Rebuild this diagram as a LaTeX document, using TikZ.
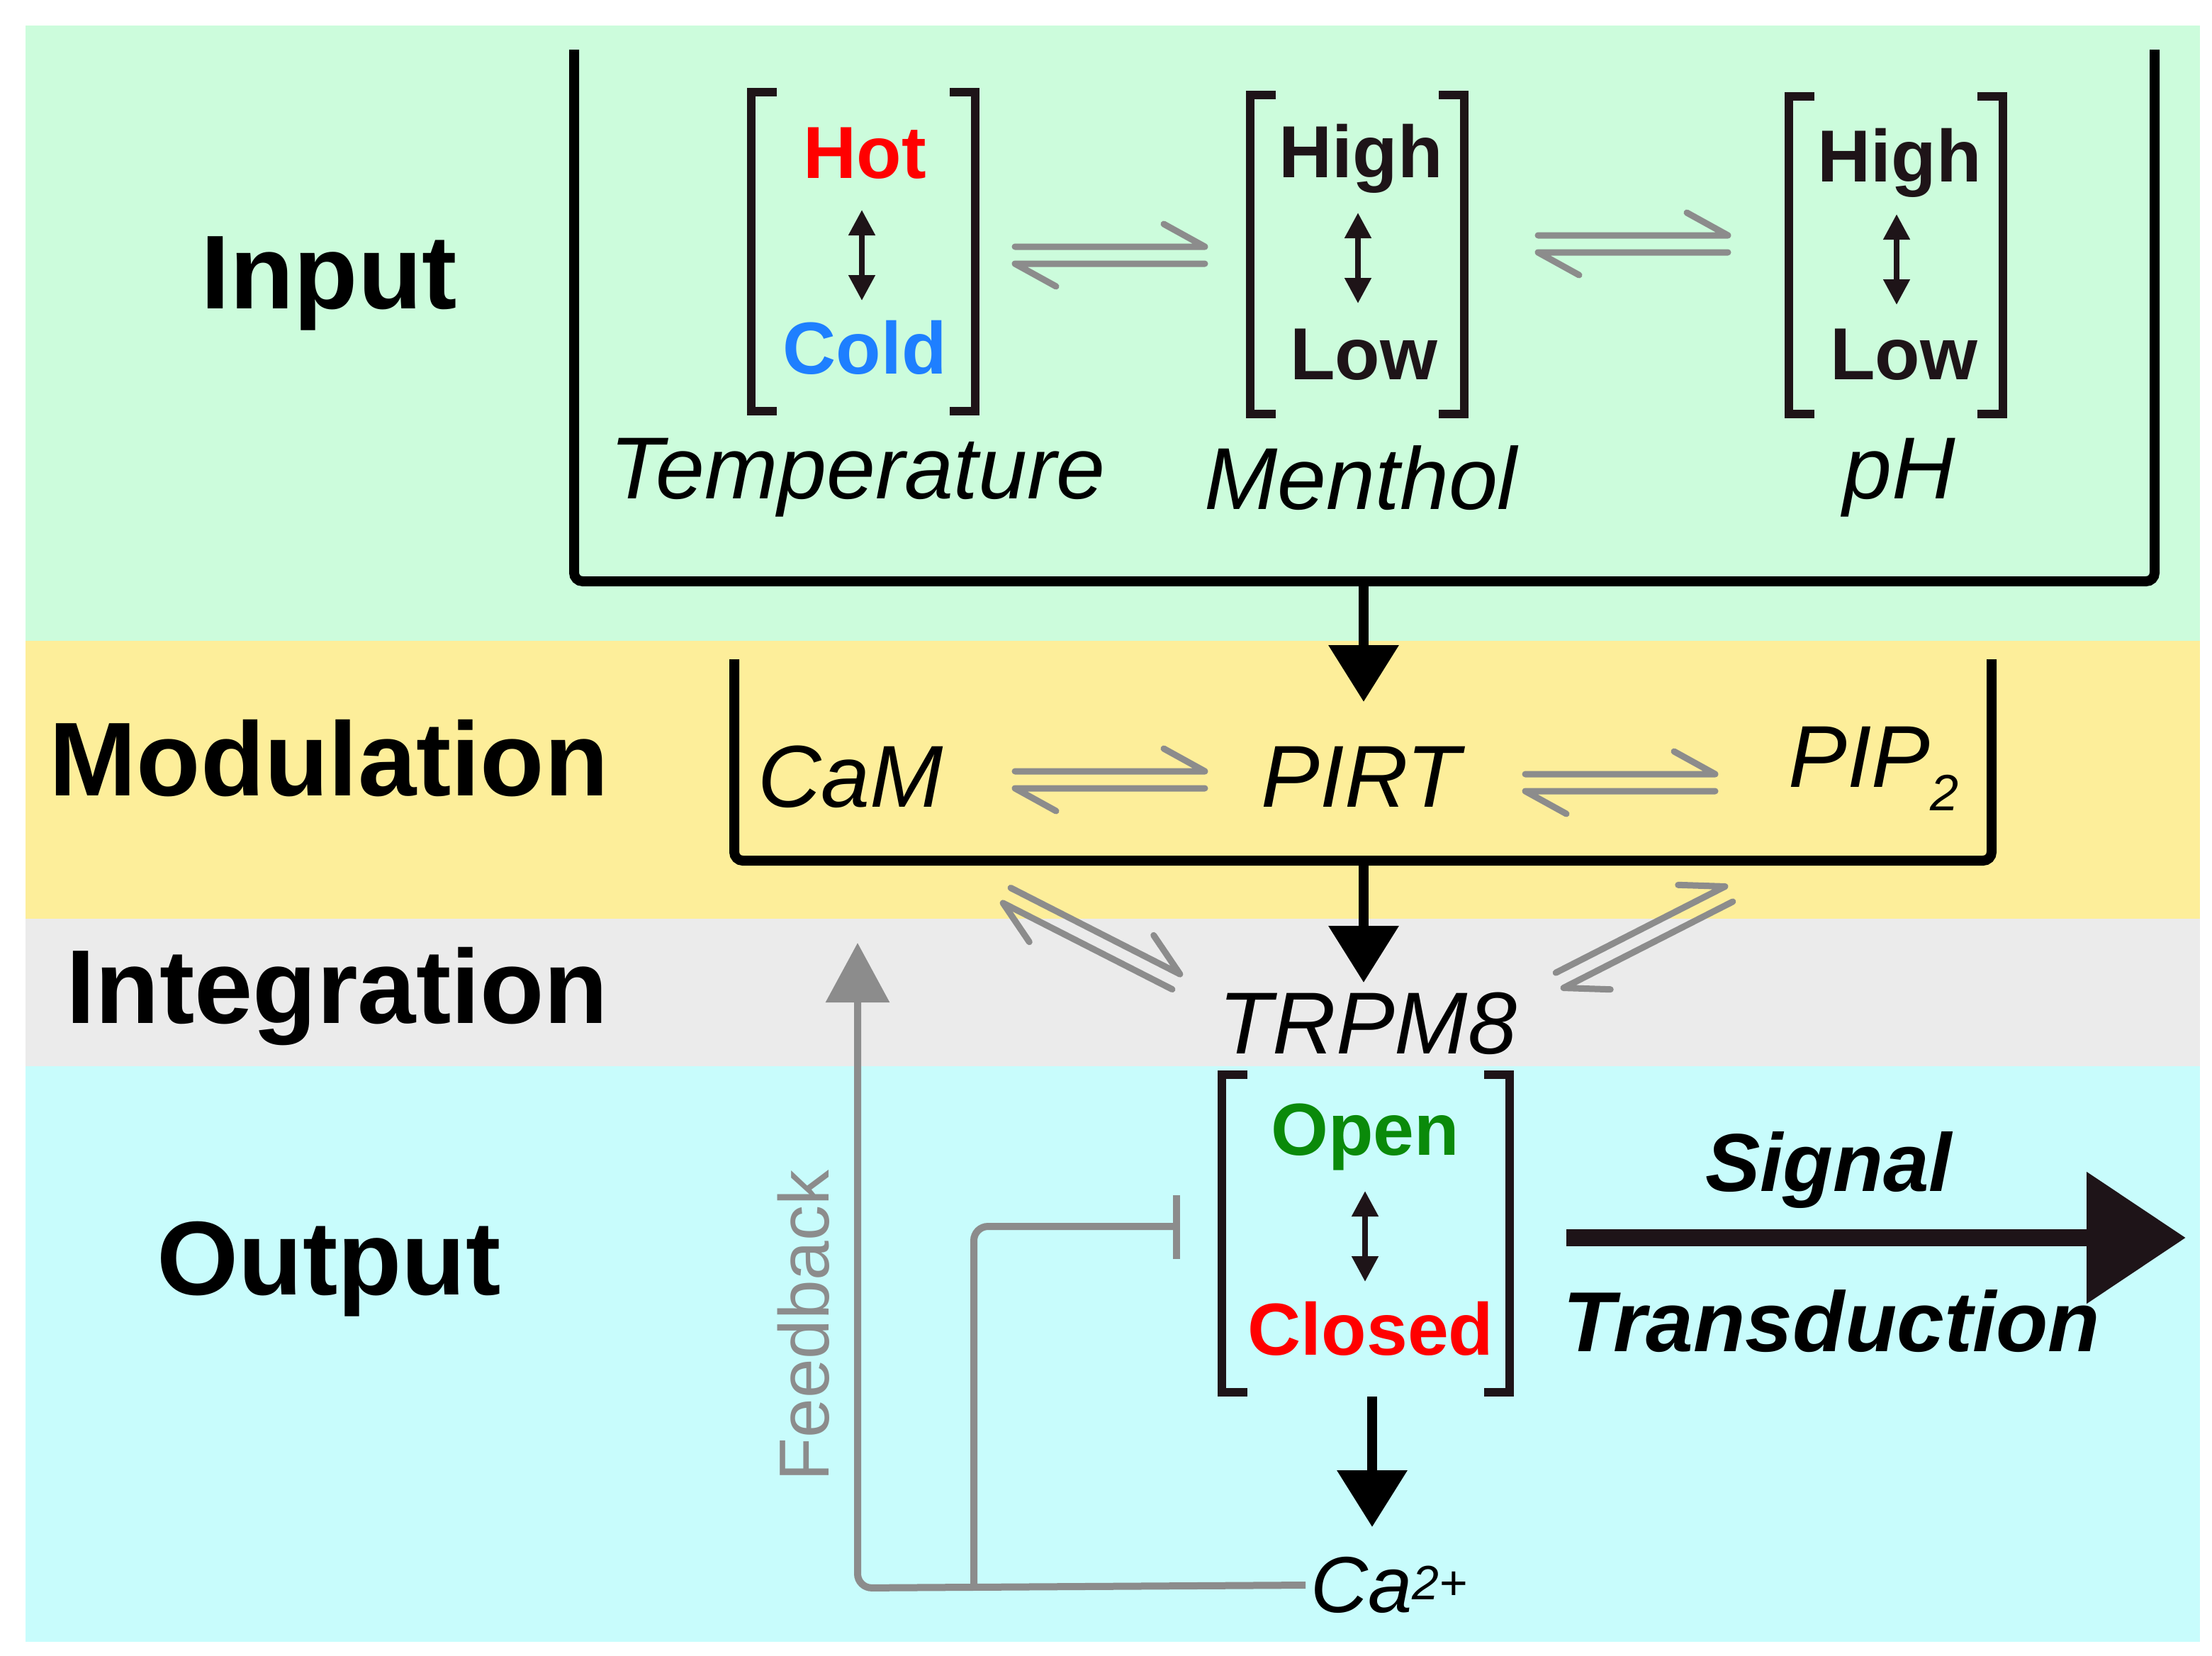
\documentclass[tikz,border=0pt]{standalone}
\usepackage{fontspec}
\setmainfont{Liberation Sans}
\usetikzlibrary{arrows.meta}
\definecolor{bgG}{HTML}{CCFCDC}
\definecolor{bgY}{HTML}{FDEE9A}
\definecolor{bgR}{HTML}{EBEBEB}
\definecolor{bgC}{HTML}{C8FCFC}
\definecolor{gr}{HTML}{8C8C8C}
\definecolor{dk}{HTML}{1E1418}
\definecolor{hot}{HTML}{FF0000}
\definecolor{cold}{HTML}{1E7FFF}
\definecolor{opn}{HTML}{0A8A0A}
\begin{document}
\begin{tikzpicture}[x=1pt,y=-1pt,
 lab/.style={font=\fontsize{74}{80}\selectfont\bfseries},
 st/.style={font=\fontsize{52}{56}\selectfont\bfseries,text=dk},
 it/.style={font=\fontsize{62}{66}\selectfont\itshape},
 bk/.style={line width=6pt,dk},
 bb/.style={line width=7pt,rounded corners=6pt},
 dbl/.style={line width=4pt,dk,{Triangle[length=18pt,width=18pt]}-{Triangle[length=18pt,width=18pt]}},
 eqline/.style={gr,line width=4.5pt,line cap=round,line join=round},
 down/.style={line width=7pt,-{Triangle[length=40pt,width=48pt]}},
 eq/.pic={\draw[eqline] (-67,-6)--(67,-6)--(38,-22);
          \draw[eqline] (67,6)--(-67,6)--(-38,22);}
]
\useasboundingbox (0,0) rectangle (1560.5,1167.5);
\fill[white] (0,0) rectangle (1560.5,1167.5);
\fill[bgG] (18,18) rectangle (1552,452);
\fill[bgY] (18,452) rectangle (1552,648);
\fill[bgR] (18,648) rectangle (1552,752);
\fill[bgC] (18,752) rectangle (1552,1158);
% section labels
\node[lab] (lIn) at (232,200) {Input};
\node[lab] (lMod) at (232,535) {Modulation};
\node[lab] (lInt) at (238,703) {Integration};
\node[lab] (lOut) at (232,895) {Output};
% input bracket
\draw[bb] (405,35) -- (405,410) -- (1520,410) -- (1520,35);
\coordinate (inB) at (962,410);
\coordinate (pirtT) at (962,495);
\draw[down] (inB) -- (pirtT);
% small brackets
\foreach \l/\r/\t/\b in {530/688/65/290, 882/1033/67/292, 1262/1413/68/292, 862/1065/758/982}{
 \draw[bk] (\l+18,\t) -- (\l,\t) -- (\l,\b) -- (\l+18,\b);
 \draw[bk] (\r-18,\t) -- (\r,\t) -- (\r,\b) -- (\r-18,\b);
}
\node[st,text=hot] (hot) at (610,108) {Hot};
\node[st,text=cold] (cold) at (610,245) {Cold};
\draw[dbl] (608,148) -- (608,212);
\node[st] (mh) at (960,112) {High};
\node[st] (ml) at (962,250) {Low};
\draw[dbl] (958,150) -- (958,214);
\node[st] (ph) at (1340,115) {High};
\node[st] (pl) at (1343,250) {Low};
\draw[dbl] (1338,151) -- (1338,215);
\node[it] (temp) at (605,337) {Temperature};
\node[it] (menth) at (960,337) {Menthol};
\node[it] (pH) at (1340,337) {pH};
\pic at (783,180) {eq};
\pic at (1152,172) {eq};
% modulation
\draw[bb] (518,465) -- (518,607) -- (1405,607) -- (1405,465);
\node[it] (cam) at (600,548) {CaM};
\node[it] (pirt) at (960,548) {PIRT};
\node[it] (pip) at (1322,542) {PIP\textsubscript{\fontsize{36}{36}\selectfont 2}};
\pic at (783,550) {eq};
\pic at (1143,552) {eq};
\coordinate (modB) at (962,607);
\coordinate (trT) at (962,693);
\draw[down] (modB) -- (trT);
\node[it] (trpm) at (965,722) {TRPM8};
\pic[rotate=-27] at (770,662) {eq};
\pic[rotate=27] at (1160,661) {eq};
% output
\node[st,text=opn] (open) at (963,802) {Open};
\node[st,text=hot] (closed) at (967,937) {Closed};
\draw[dbl] (963,840) -- (963,904);
\coordinate (outB) at (968,985);
\coordinate (caT) at (968,1077);
\draw[down] (outB) -- (caT);
\node[it,font=\fontsize{56}{60}\selectfont\itshape] (ca) at (980,1118) {Ca\textsuperscript{\fontsize{34}{34}\selectfont 2+}};
% feedback
\coordinate (fbT) at (605,665);
\draw[gr,line width=5pt,rounded corners=10pt,-{Triangle[length=42pt,width=44pt]}] (ca.west) -- (605,1120) -- (fbT);
\draw[gr,line width=5pt,rounded corners=10pt] (687,1120) -- (687,865) -- (830,865);
\draw[gr,line width=5pt] (830,843) -- (830,888);
\node[font=\fontsize{50}{54}\selectfont,text=gr,rotate=90] (fb) at (567,935) {Feedback};
% signal transduction
\coordinate (sgA) at (1105,873);
\coordinate (sgB) at (1542,873);
\draw[dk,line width=12pt,-{Triangle[length=70pt,width=90pt]}] (sgA) -- (sgB);
\node[font=\fontsize{58}{62}\selectfont\bfseries\itshape] (sig) at (1290,825) {Signal};
\node[font=\fontsize{60}{64}\selectfont\bfseries\itshape] (trn) at (1292,932) {Transduction};
\end{tikzpicture}
\end{document}
